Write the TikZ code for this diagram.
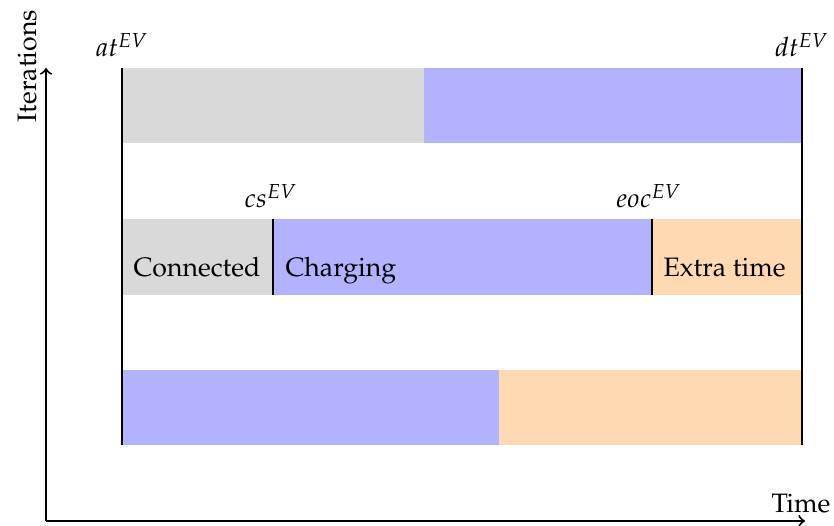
\documentclass[tikz,border=0pt]{standalone}
\usepackage[T1]{fontenc}
\usepackage{mathpazo}
\begin{document}
\begin{tikzpicture}[x=0.375pt,y=-0.375pt,
  conn/.style={fill=black!15,draw=none},
  chg/.style={fill=blue!30,draw=none},
  xtra/.style={fill=orange!30,draw=none},
  edge/.style={line width=0.75pt},
  axis/.style={line width=0.75pt,-to},
  lbl/.style={inner sep=0pt,anchor=base},
  phase/.style={inner sep=0pt,anchor=base west}]
\useasboundingbox (0,0) rectangle (834,526);

% first iteration
\fill[conn] (122,68) rectangle (424,143);
\fill[chg]  (424,68) rectangle (802,143);
% second iteration
\fill[conn] (122,219) rectangle (273,295);
\fill[chg]  (273,219) rectangle (652,295);
\fill[xtra] (652,219) rectangle (802,295);
% third iteration
\fill[chg]  (122,370) rectangle (499,445);
\fill[xtra] (499,370) rectangle (802,445);

% arrival / departure bounds and phase changes
\coordinate (at1) at (122,68);  \coordinate (at2) at (122,445);
\coordinate (dt1) at (802,68);  \coordinate (dt2) at (802,445);
\coordinate (cs1) at (273,219); \coordinate (cs2) at (273,295);
\coordinate (eo1) at (652,219); \coordinate (eo2) at (652,295);
\draw[edge] (at1) -- (at2);
\draw[edge] (dt1) -- (dt2);
\draw[edge] (cs1) -- (cs2);
\draw[edge] (eo1) -- (eo2);

\node[lbl] (at) at (122,57) {$at^{EV}$};
\node[lbl] (dt) at (802,57) {$dt^{EV}$};
\node[lbl] (cs) at (271,208) {$cs^{EV}$};
\node[lbl] (eoc) at (649,208) {$eoc^{EV}$};

\node[phase] (connected) at (133,277) {Connected};
\node[phase] (charging) at (285,277) {Charging};
\node[phase] (extra) at (663,277) {Extra time};

% axes
\coordinate (O) at (46,521);
\coordinate (ytip) at (46,68);
\coordinate (xtip) at (805,521);
\draw[axis] (O) -- (ytip);
\draw[axis] (O) -- (xtip);
\node[inner sep=0pt,rotate=90,anchor=base] (iter) at (36,66) {Iterations};
\node[inner sep=0pt,anchor=base] (time) at (801,512) {Time};
\end{tikzpicture}
\end{document}
